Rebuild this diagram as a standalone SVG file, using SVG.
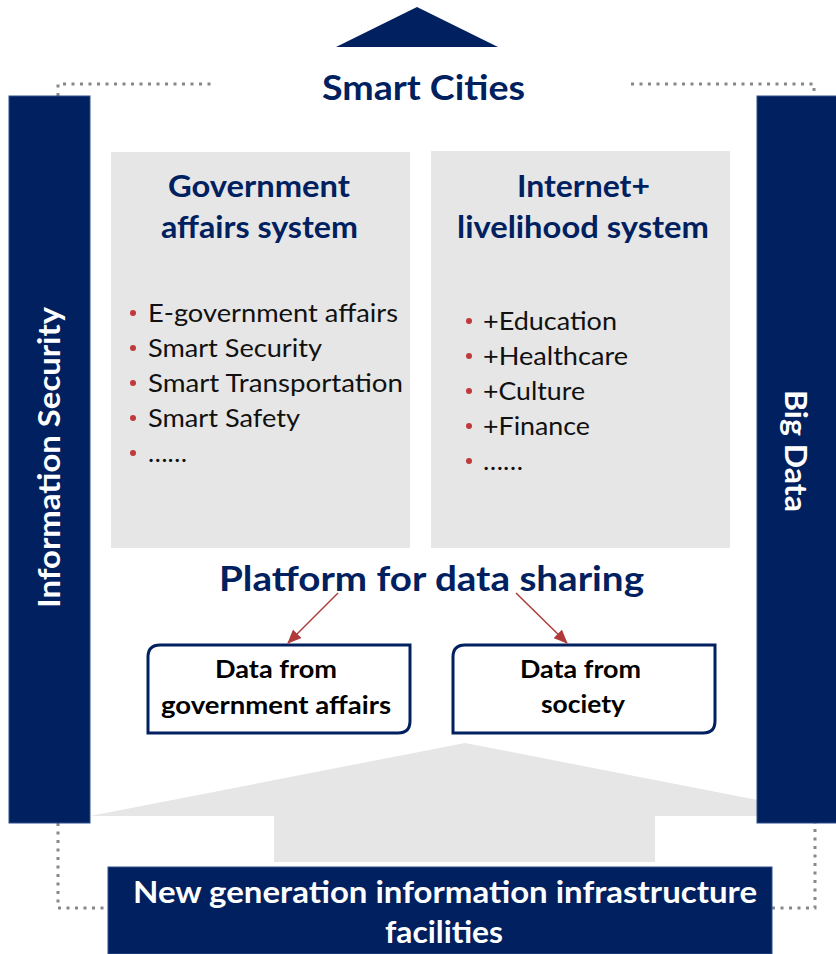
<svg xmlns="http://www.w3.org/2000/svg" width="836" height="954" viewBox="0 0 836 954">
  <style>
    .navy { fill: #002060; }
    .bar { fill: #002060; stroke: #2f4f8f; stroke-width: 1; }
    .panel { fill: #e6e6e6; }
    .dots { fill: none; stroke: #888888; stroke-width: 3; stroke-dasharray: 3 5.5; }
    .t { font-family: Lato, "Open Sans", "Liberation Sans", sans-serif; }
    .head { font-weight: bold; fill: #002060; text-anchor: middle; }
    .item { fill: #111111; font-size: 25px; }
    .bullet { fill: #c0393b; }
    .box { fill: #ffffff; stroke: #002060; stroke-width: 3; }
    .boxtxt { font-weight: bold; fill: #000000; font-size: 24px; text-anchor: middle; }
    .light { font-weight: bold; fill: #ffffff; text-anchor: middle; }
    .link { stroke: #b03a3a; stroke-width: 1.5; fill: none; }
  </style>
  <defs>
    <marker id="arrow" markerWidth="14" markerHeight="12" refX="13" refY="6" orient="auto" markerUnits="userSpaceOnUse">
      <path d="M0,0 L14,6 L0,12 Z" fill="#b03a3a"/>
    </marker>
  </defs>

  <!-- dotted frame -->
  <g id="frame">
    <path class="dots" d="M58,96 V84 H215"/>
    <path class="dots" d="M631,84 H814 V96"/>
    <path class="dots" d="M58,823 V908 H108"/>
    <path class="dots" d="M772,908 H815 V823"/>
  </g>

  <!-- upward arrow from infrastructure -->
  <g id="uplift">
    <polygon class="panel" points="90,816 465,743 840,816"/>
    <rect class="panel" x="274" y="815" width="381" height="47"/>
  </g>

  <!-- apex -->
  <g id="smart-cities">
    <polygon class="navy" points="336,47 417,7 498,47"/>
    <text class="t head" x="423.5" y="100" font-size="35" textLength="203" lengthAdjust="spacingAndGlyphs">Smart Cities</text>
  </g>

  <g id="info-security">
    <rect class="bar" x="9" y="96" width="81" height="727"/>
    <text class="t light" font-size="30" textLength="301" lengthAdjust="spacingAndGlyphs" transform="translate(60,457.5) rotate(-90)">Information Security</text>
  </g>

  <g id="big-data">
    <rect class="bar" x="757" y="96" width="82" height="727"/>
    <text class="t light" font-size="30" textLength="122" lengthAdjust="spacingAndGlyphs" transform="translate(785,451) rotate(90)">Big Data</text>
  </g>

  <g id="gov-system">
    <rect class="panel" x="111" y="152" width="299" height="396"/>
    <text class="t head" x="259" y="197" font-size="30" textLength="182" lengthAdjust="spacingAndGlyphs">Government</text>
    <text class="t head" x="259.5" y="238" font-size="30" textLength="197" lengthAdjust="spacingAndGlyphs">affairs system</text>
    <circle class="bullet" cx="133" cy="313" r="3"/>
    <circle class="bullet" cx="133" cy="348" r="3"/>
    <circle class="bullet" cx="133" cy="383" r="3"/>
    <circle class="bullet" cx="133" cy="418" r="3"/>
    <circle class="bullet" cx="133" cy="453" r="3"/>
    <text class="t item" x="148" y="322" textLength="250" lengthAdjust="spacingAndGlyphs">E-government affairs</text>
    <text class="t item" x="148" y="357" textLength="174" lengthAdjust="spacingAndGlyphs">Smart Security</text>
    <text class="t item" x="148" y="392" textLength="255" lengthAdjust="spacingAndGlyphs">Smart Transportation</text>
    <text class="t item" x="148" y="427" textLength="152" lengthAdjust="spacingAndGlyphs">Smart Safety</text>
    <text class="t item" x="148" y="462" textLength="39" lengthAdjust="spacingAndGlyphs">……</text>
  </g>

  <g id="livelihood-system">
    <rect class="panel" x="431" y="151" width="299" height="397"/>
    <text class="t head" x="583.5" y="197" font-size="30" textLength="133" lengthAdjust="spacingAndGlyphs">Internet+</text>
    <text class="t head" x="583" y="238" font-size="30" textLength="252" lengthAdjust="spacingAndGlyphs">livelihood system</text>
    <circle class="bullet" cx="469" cy="321" r="3"/>
    <circle class="bullet" cx="469" cy="356" r="3"/>
    <circle class="bullet" cx="469" cy="391" r="3"/>
    <circle class="bullet" cx="469" cy="426" r="3"/>
    <circle class="bullet" cx="469" cy="461" r="3"/>
    <text class="t item" x="483" y="330" textLength="134" lengthAdjust="spacingAndGlyphs">+Education</text>
    <text class="t item" x="483" y="365" textLength="145" lengthAdjust="spacingAndGlyphs">+Healthcare</text>
    <text class="t item" x="483" y="400" textLength="102" lengthAdjust="spacingAndGlyphs">+Culture</text>
    <text class="t item" x="483" y="435" textLength="107" lengthAdjust="spacingAndGlyphs">+Finance</text>
    <text class="t item" x="483" y="470" textLength="40" lengthAdjust="spacingAndGlyphs">……</text>
  </g>

  <g id="platform">
    <text class="t head" x="431.5" y="591" font-size="35" textLength="425" lengthAdjust="spacingAndGlyphs">Platform for data sharing</text>
  </g>

  <g id="gov-data">
    <path class="box" d="M160,645 H410 V721 Q410,733 398,733 H148 V657 Q148,645 160,645 Z"/>
    <text class="t boxtxt" x="276" y="678" textLength="122" lengthAdjust="spacingAndGlyphs">Data from</text>
    <text class="t boxtxt" x="276" y="714" textLength="230" lengthAdjust="spacingAndGlyphs">government affairs</text>
  </g>

  <g id="society-data">
    <path class="box" d="M465,645 H715 V721 Q715,733 703,733 H453 V657 Q453,645 465,645 Z"/>
    <text class="t boxtxt" x="580.5" y="678" textLength="121" lengthAdjust="spacingAndGlyphs">Data from</text>
    <text class="t boxtxt" x="583" y="713" textLength="84" lengthAdjust="spacingAndGlyphs">society</text>
  </g>

  <g id="infrastructure">
    <rect class="bar" x="108" y="867" width="664" height="87"/>
    <text class="t light" x="445" y="903" font-size="31" textLength="624" lengthAdjust="spacingAndGlyphs">New generation information infrastructure</text>
    <text class="t light" x="444" y="943" font-size="31" textLength="118" lengthAdjust="spacingAndGlyphs">facilities</text>
  </g>

  <g id="connectors">
    <line class="link" x1="338" y1="593" x2="288" y2="643" marker-end="url(#arrow)"/>
    <line class="link" x1="516" y1="593" x2="567" y2="643" marker-end="url(#arrow)"/>
  </g>
</svg>
